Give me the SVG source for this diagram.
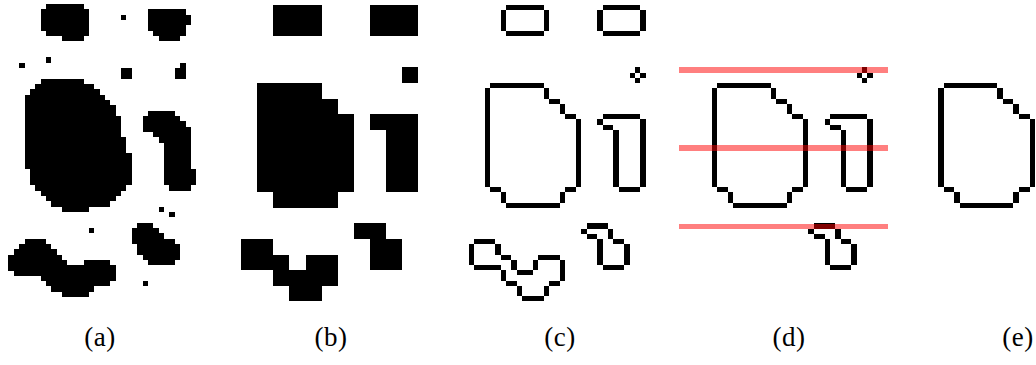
<svg xmlns="http://www.w3.org/2000/svg" xmlns:xlink="http://www.w3.org/1999/xlink" width="1036" height="365" viewBox="0 0 1036 365">
<style>
.px{fill:#000;shape-rendering:crispEdges}
.redline{fill:#ff0000;fill-opacity:0.5;shape-rendering:crispEdges}
.lbl{font-family:"Liberation Serif","DejaVu Serif",serif;font-size:27px;fill:#000;text-anchor:middle;letter-spacing:0.5px}
</style>
<defs>
<g id="bigOutline">
<rect x="7" y="15" width="10" height="1"/><rect x="6" y="16" width="1" height="19"/>
<rect x="17" y="16" width="1" height="2"/><rect x="18" y="18" width="2" height="1"/>
<rect x="20" y="19" width="1" height="2"/><rect x="21" y="21" width="2" height="1"/>
<rect x="23" y="22" width="1" height="13"/>
<rect x="7" y="35" width="2" height="1"/><rect x="21" y="35" width="2" height="1"/>
<rect x="9" y="36" width="1" height="2"/><rect x="20" y="36" width="1" height="2"/>
<rect x="10" y="38" width="10" height="1"/>
</g>
<g id="oneOutline">
<rect x="28" y="21" width="7" height="1"/><rect x="27" y="22" width="1" height="1"/>
<rect x="28" y="23" width="2" height="1"/><rect x="30" y="24" width="1" height="11"/>
<rect x="35" y="22" width="1" height="13"/><rect x="31" y="35" width="4" height="1"/>
</g>
<g id="diamond">
<rect x="34" y="12" width="1" height="1"/><rect x="33" y="13" width="1" height="1"/>
<rect x="35" y="13" width="1" height="1"/><rect x="34" y="14" width="1" height="1"/>
</g>
<g id="smallOutline">
<rect x="25" y="42" width="4" height="1"/><rect x="24" y="43" width="1" height="1"/>
<rect x="29" y="43" width="1" height="2"/><rect x="25" y="44" width="2" height="1"/>
<rect x="27" y="45" width="1" height="5"/><rect x="30" y="45" width="2" height="1"/>
<rect x="32" y="46" width="1" height="4"/><rect x="28" y="50" width="4" height="1"/>
</g>
</defs>

<g id="panel-a" class="px" transform="translate(-7.7,4) scale(5.367,5.33)">
<rect x="10" y="0" width="7" height="1"/><rect x="9" y="1" width="9" height="4"/>
<rect x="10" y="5" width="8" height="1"/><rect x="13" y="6" width="4" height="1"/>
<rect x="24" y="2" width="1" height="1"/>
<rect x="29" y="1" width="7" height="1"/><rect x="29" y="2" width="8" height="2"/>
<rect x="29" y="4" width="7" height="1"/><rect x="30" y="5" width="6" height="1"/>
<rect x="31" y="6" width="4" height="1"/>
<rect x="10" y="10" width="1" height="1"/><rect x="5" y="11" width="1" height="1"/>
<rect x="24" y="12" width="2" height="2"/>
<rect x="35" y="11" width="1" height="1"/><rect x="34" y="12" width="2" height="2"/>
<rect x="9" y="14" width="8" height="1"/><rect x="8" y="15" width="11" height="1"/>
<rect x="7" y="16" width="13" height="1"/><rect x="6" y="17" width="15" height="1"/>
<rect x="6" y="18" width="16" height="1"/><rect x="6" y="19" width="17" height="2"/>
<rect x="6" y="21" width="18" height="4"/><rect x="6" y="25" width="19" height="3"/>
<rect x="6" y="28" width="20" height="3"/><rect x="7" y="31" width="19" height="3"/>
<rect x="8" y="34" width="17" height="1"/><rect x="9" y="35" width="15" height="1"/>
<rect x="10" y="36" width="13" height="1"/><rect x="11" y="37" width="11" height="1"/>
<rect x="13" y="38" width="5" height="1"/>
<rect x="29" y="20" width="5" height="1"/><rect x="28" y="21" width="7" height="1"/>
<rect x="28" y="22" width="8" height="1"/><rect x="28" y="23" width="9" height="1"/>
<rect x="30" y="24" width="7" height="1"/><rect x="31" y="25" width="6" height="1"/>
<rect x="32" y="26" width="5" height="5"/><rect x="32" y="31" width="6" height="3"/>
<rect x="33" y="34" width="4" height="1"/>
<rect x="31" y="38" width="1" height="1"/><rect x="33" y="39" width="1" height="1"/>
<rect x="18" y="42" width="1" height="1"/><rect x="28" y="52" width="1" height="1"/>
<rect x="27" y="41" width="3" height="1"/><rect x="26" y="42" width="5" height="1"/>
<rect x="26" y="43" width="6" height="1"/><rect x="26" y="44" width="8" height="1"/>
<rect x="27" y="45" width="8" height="2"/><rect x="28" y="47" width="7" height="1"/>
<rect x="29" y="48" width="5" height="1"/>
<rect x="6" y="44" width="4" height="1"/><rect x="5" y="45" width="6" height="1"/>
<rect x="4" y="46" width="8" height="1"/><rect x="3" y="47" width="10" height="1"/>
<rect x="3" y="48" width="11" height="1"/><rect x="17" y="48" width="5" height="1"/>
<rect x="3" y="49" width="20" height="1"/><rect x="4" y="50" width="19" height="1"/>
<rect x="9" y="51" width="14" height="1"/><rect x="10" y="52" width="12" height="1"/>
<rect x="11" y="53" width="8" height="1"/><rect x="13" y="54" width="5" height="1"/>
</g>

<g id="panel-b" class="px" transform="translate(225,4.99) scale(16.1,15.605)">
<rect x="3" y="0" width="3" height="2"/><rect x="9" y="0" width="3" height="2"/>
<rect x="11" y="4" width="1" height="1"/>
<rect x="2" y="5" width="4" height="1"/><rect x="2" y="6" width="5" height="1"/>
<rect x="2" y="7" width="6" height="5"/><rect x="3" y="12" width="4" height="1"/>
<rect x="9" y="7" width="3" height="1"/><rect x="10" y="8" width="2" height="4"/>
<rect x="8" y="14" width="2" height="1"/><rect x="9" y="15" width="2" height="2"/>
<rect x="1" y="15" width="2" height="1"/><rect x="1" y="16" width="3" height="1"/>
<rect x="5" y="16" width="2" height="1"/><rect x="3" y="17" width="4" height="1"/>
<rect x="4" y="18" width="2" height="1"/>
</g>

<g id="panel-c" class="px" transform="translate(452.4,4.99) scale(5.367,5.2017)">
<rect x="10" y="0" width="7" height="1"/><rect x="9" y="1" width="1" height="4"/>
<rect x="17" y="1" width="1" height="4"/><rect x="10" y="5" width="7" height="1"/>
<rect x="28" y="0" width="7" height="1"/><rect x="27" y="1" width="1" height="4"/>
<rect x="35" y="1" width="1" height="4"/><rect x="28" y="5" width="7" height="1"/>
<use xlink:href="#diamond"/>
<use xlink:href="#bigOutline"/>
<use xlink:href="#oneOutline"/>
<use xlink:href="#smallOutline"/>
<rect x="4" y="45" width="4" height="1"/><rect x="3" y="46" width="1" height="4"/>
<rect x="8" y="46" width="1" height="2"/><rect x="9" y="48" width="2" height="1"/>
<rect x="11" y="49" width="1" height="2"/><rect x="12" y="51" width="3" height="1"/>
<rect x="15" y="49" width="1" height="2"/><rect x="16" y="48" width="4" height="1"/>
<rect x="20" y="49" width="1" height="4"/><rect x="4" y="50" width="5" height="1"/>
<rect x="9" y="51" width="1" height="2"/><rect x="10" y="53" width="2" height="1"/>
<rect x="12" y="54" width="1" height="2"/><rect x="13" y="56" width="4" height="1"/>
<rect x="17" y="54" width="1" height="2"/><rect x="18" y="53" width="2" height="1"/>
</g>

<g id="panel-d">
<g class="px" transform="translate(679.6,4.99) scale(5.367,5.2017)">
<use xlink:href="#diamond"/>
<use xlink:href="#bigOutline"/>
<use xlink:href="#oneOutline"/>
<use xlink:href="#smallOutline"/>
</g>
<rect class="redline" x="679" y="67.4" width="209" height="5.2"/>
<rect class="redline" x="679" y="145.4" width="209" height="5.2"/>
<rect class="redline" x="679" y="223.5" width="209" height="5.2"/>
</g>

<g id="panel-e" class="px" transform="translate(906.1,4.99) scale(5.367,5.2017)">
<use xlink:href="#bigOutline"/>
</g>

<g id="labels">
<text class="lbl" x="100" y="346">(a)</text>
<text class="lbl" x="331" y="346">(b)</text>
<text class="lbl" x="560" y="346">(c)</text>
<text class="lbl" x="789" y="346">(d)</text>
<text class="lbl" x="1018" y="346">(e)</text>
</g>
</svg>
